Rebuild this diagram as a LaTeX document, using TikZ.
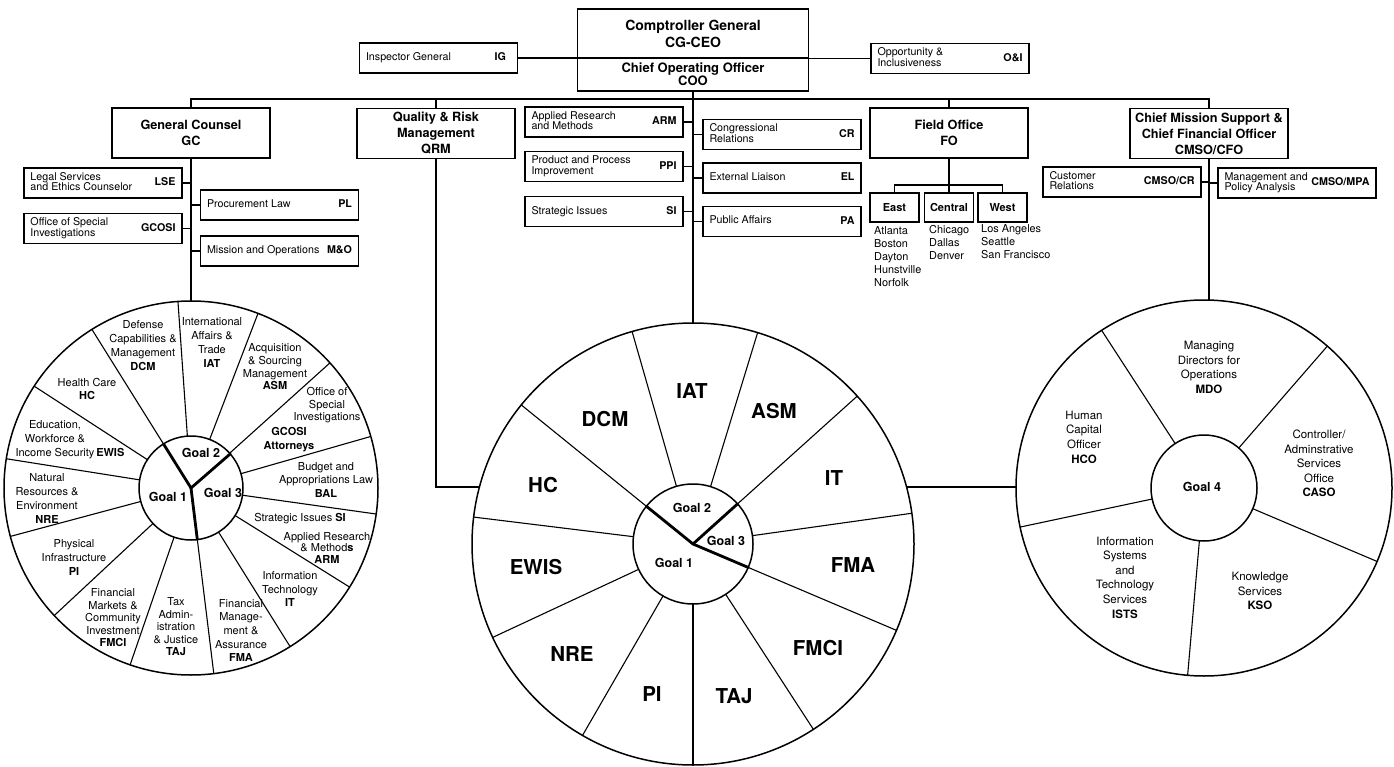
\documentclass[tikz,border=0pt]{standalone}
\usepackage{fontspec}
\setmainfont{TeX Gyre Heros}
\newcommand{\bxt}[2]{\makebox[145pt]{\begin{tabular}{@{}l@{}}#1\end{tabular}\hfill\textbf{#2}}}
\begin{document}
\begin{tikzpicture}[x=1pt,y=-1pt,
  conn/.style={line width=1.4pt},
  sbox/.style={draw, line width=1.3pt, minimum width=158pt, minimum height=30pt, inner xsep=6.5pt, inner ysep=0pt, font=\fontsize{10.7}{9.5}\selectfont},
  hbox/.style={draw, line width=1.3pt, minimum width=158pt, minimum height=50pt, align=center, inner sep=0pt, font=\fontsize{12.7}{16}\selectfont\bfseries},
  regbox/.style={draw, line width=1.3pt, minimum width=49pt, minimum height=29pt, inner sep=0pt, font=\fontsize{11}{13}\selectfont\bfseries},
  city/.style={anchor=north west, inner sep=0pt, align=left, font=\fontsize{10.9}{13}\selectfont},
  wheel/.style={circle, draw, line width=1.5pt, inner sep=0pt, outer sep=0pt, minimum size=#1},
  spoke/.style={line width=1.1pt},
  goalline/.style={line width=2.8pt, line cap=round},
  wl/.style={align=center, inner sep=0pt, font=\fontsize{11}{13.5}\selectfont},
  rl/.style={align=center, inner sep=0pt, font=\fontsize{11.5}{14.6}\selectfont},
  big/.style={inner sep=0pt, font=\fontsize{20.5}{20}\selectfont\bfseries},
  goal/.style={inner sep=0pt, font=\fontsize{12.5}{14}\selectfont\bfseries}
]
\useasboundingbox (0,0) rectangle (1394,767);

% ---- top ----
\node[draw, line width=1.4pt, minimum width=231pt, minimum height=49pt, inner sep=0pt, align=center,
      font=\fontsize{14}{17}\selectfont\bfseries] (topA) at (693,33.5) {Comptroller General\\CG-CEO};
\node[draw, line width=1.4pt, minimum width=231pt, minimum height=33pt, inner sep=0pt, align=center,
      font=\fontsize{13}{13}\selectfont\bfseries] (topB) at (693,74.5) {Chief Operating Officer\\COO};
\node[sbox] (ig) at (438.5,58) {\bxt{Inspector General}{IG\hspace{5pt}}};
\node[sbox] (oi) at (950,58.5) {\bxt{Opportunity \&\\Inclusiveness}{O\&I}};
\draw[conn] (ig.east) -- (ig.east -| topB.west);
\draw[conn] (oi.west) -- (oi.west -| topB.east);

% ---- second level ----
\coordinate (bus) at (693,99);
\node[hbox] (gc) at (191,133) {General Counsel\\GC};
\node[hbox] (qrm) at (436,133.5) {Quality \& Risk\\Management\\QRM};
\node[hbox] (fo) at (949,133) {Field Office\\FO};
\node[hbox] (cmso) at (1209,133.5) {Chief Mission Support \&\\Chief Financial Officer\\CMSO/CFO};
\draw[conn] (gc.north) -- (gc.north |- bus) -- (cmso.north |- bus) -- (cmso.north);
\draw[conn] (qrm.north) -- (qrm.north |- bus);
\draw[conn] (fo.north) -- (fo.north |- bus);

% ---- wheels ----
\node[wheel=374pt] (lwh) at (191,488) {};
\node[wheel=104pt] (lwi) at (191,488) {};
\node[wheel=442pt] (mw) at (693,544) {};
\node[wheel=120pt] (mwi) at (693,544) {};
\node[wheel=376pt] (rw) at (1204,488) {};
\node[wheel=106pt] (rwi) at (1204,488) {};

\draw[conn] (gc.south) -- (lwh.north);
\draw[conn] (topB.south) -- (mw.north);
\draw[conn] (qrm.south) |- (mw.165);
\draw[conn] (mw.15) -- (mw.15 -| rw.west);
\draw[conn] (cmso.south) -- (cmso.south |- rw.north);

% ---- GC column ----
\node[sbox] (lse) at (103,183) {\bxt{Legal Services\\and Ethics Counselor}{LSE}};
\node[sbox] (gcosi) at (103,228.5) {\bxt{Office of Special\\Investigations}{GCOSI}};
\node[sbox] (pl) at (279.5,205) {\bxt{Procurement Law}{PL}};
\node[sbox] (mo) at (279.5,251) {\bxt{Mission and Operations}{M\&O}};
\draw[conn] (lse.east) -- (lse.east -| gc.south);
\draw[conn] (gcosi.east) -- (gcosi.east -| gc.south);
\draw[conn] (pl.west) -- (pl.west -| gc.south);
\draw[conn] (mo.west) -- (mo.west -| gc.south);

% ---- middle column ----
\node[sbox] (arm) at (604,122) {\bxt{Applied Research\\and Methods}{ARM}};
\node[sbox] (ppi) at (604,166.5) {\bxt{Product and Process\\Improvement}{PPI}};
\node[sbox] (si) at (604,211.5) {\bxt{Strategic Issues}{SI}};
\node[sbox] (cr) at (782,134.5) {\bxt{Congressional\\Relations}{CR}};
\node[sbox] (el) at (782,178) {\bxt{External Liaison}{EL}};
\node[sbox] (pa) at (782,221.5) {\bxt{Public Affairs}{PA}};
\foreach \n in {arm,ppi,si} \draw[conn] (\n.east) -- (\n.east -| mw.north);
\foreach \n in {cr,el,pa} \draw[conn] (\n.west) -- (\n.west -| mw.north);

% ---- field office ----
\coordinate (fob) at (949,185);
\node[regbox] (east) at (894.5,207.5) {East};
\node[regbox] (central) at (949,207.5) {Central};
\node[regbox] (west) at (1002.5,207.5) {West};
\draw[conn] (fo.south) -- (central.north);
\draw[conn] (east.north) -- (east.north |- fob) -- (west.north |- fob) -- (west.north);
\node[city] (ecity) at (874,226) {Atlanta\\Boston\\Dayton\\Hunstville\\Norfolk};
\node[city] (ccity) at (929,225) {Chicago\\Dallas\\Denver};
\node[city] (wcity) at (981,224) {Los Angeles\\Seattle\\San Francisco};

% ---- CMSO ----
\node[sbox] (ccr) at (1122,182) {\bxt{Customer\\Relations}{CMSO/CR}};
\node[sbox] (mpa) at (1297,183) {\makebox[145pt]{\begin{tabular}{@{}l@{}}Management and\\Policy Analysis\end{tabular}\hfill\textbf{CMSO/MPA}}};
\draw[conn] (ccr.east) -- (ccr.east -| cmso.south);
\draw[conn] (mpa.west) -- (mpa.west -| cmso.south);

% ---- left wheel ----
\foreach \a in {94.6,122,147,171.4,195.9,223.7,251.3,277,302,328,352,16,42,69.6}
  \draw[spoke] (lwi.\a) -- (lwh.\a);
\draw[goalline] (lwi.center) -- (lwi.122);
\draw[goalline] (lwi.center) -- (lwi.41);
\draw[goalline] (lwi.center) -- (lwi.277);
\node[goal] (lg1) at (168,497) {Goal 1};
\node[goal] (lg2) at (201,453) {Goal 2};
\node[goal] (lg3) at (223,493) {Goal 3};

\node[wl, font=\fontsize{11}{14}\selectfont] (tDCM) at (143,346) {Defense\\Capabilities \&\\Management\\\textbf{DCM}};
\node[wl] (tHC) at (87,389) {Health Care\\\textbf{HC}};
\node[wl, font=\fontsize{11}{14.3}\selectfont] (tEWIS) at (55,439.5) {Education,\\Workforce \&\\Income Security\rlap{\,\textbf{EWIS}}};
\node[wl, font=\fontsize{11}{14.3}\selectfont] (tNRE) at (47,498.5) {Natural\\Resources \&\\Environment\\\textbf{NRE}};
\node[wl, font=\fontsize{11}{14}\selectfont] (tPI) at (74,557) {Physical\\Infrastructure\\\textbf{PI}};
\node[wl, font=\fontsize{11}{12.5}\selectfont] (tFMCI) at (113,618) {Financial\\Markets \&\\Community\\Investment\\\textbf{FMCI}};
\node[wl, font=\fontsize{11}{12.5}\selectfont] (tTAJ) at (176,627) {Tax\\Admin-\\istration\\\& Justice\\\textbf{TAJ}};
\node[wl, font=\fontsize{11}{14.3}\selectfont] (tIAT) at (212,342.5) {International\\Affairs \&\\Trade\\\textbf{IAT}};
\node[wl, font=\fontsize{11}{12.7}\selectfont] (tASM) at (275,367) {Acquisition\\\& Sourcing\\Management\\\textbf{ASM}};
\node[wl, font=\fontsize{11}{12.5}\selectfont] (tGCa) at (327,405.5) {Office of\\Special\\Investigations};
\node[wl] (tGCb) at (289,439.5) {\textbf{GCOSI}\\\textbf{Attorneys}};
\node[wl] (tBAL) at (326,479.5) {Budget and\\Appropriations Law\\\textbf{BAL}};
\node[wl] (tSI) at (300,519) {Strategic Issues \textbf{SI}};
\node[wl, font=\fontsize{11}{11.5}\selectfont] (tARM) at (327,547.5) {Applied Research\\\& Method\textbf{s}\\\textbf{ARM}};
\node[wl] (tIT) at (290,589) {Information\\Technology\\\textbf{IT}};
\node[wl, font=\fontsize{11}{13.7}\selectfont] (tFMA) at (241,630.5) {Financial\\Manage-\\ment \&\\Assurance\\\textbf{FMA}};

% ---- middle wheel ----
\foreach \a in {106.8,73.5,42.8,8.5,-23.5,-57.6,-90,-120.9,-155.3,173.2,141.3}
  \draw[spoke] (mwi.\a) -- (mw.\a);
\draw[goalline] (mwi.center) -- (mwi.141.3);
\draw[goalline] (mwi.center) -- (mwi.42.8);
\draw[goalline] (mwi.center) -- (mwi.-23.5);
\node[goal] (mg2) at (692,508) {Goal 2};
\node[goal] (mg3) at (726,541) {Goal 3};
\node[goal] (mg1) at (674,563) {Goal 1};
\node[big] (mIAT) at (692,391) {IAT};
\node[big] (mDCM) at (605,419) {DCM};
\node[big] (mASM) at (774,411) {ASM};
\node[big] (mIT) at (834,478) {IT};
\node[big] (mHC) at (543,485) {HC};
\node[big] (mEWIS) at (536,567) {EWIS};
\node[big] (mFMA) at (853,565) {FMA};
\node[big] (mNRE) at (572,654) {NRE};
\node[big] (mFMCI) at (818,648) {FMCI};
\node[big] (mPI) at (652,694) {PI};
\node[big] (mTAJ) at (734,696) {TAJ};

% ---- right wheel ----
\foreach \a in {123.8,49.2,-23.3,-95.7,192}
  \draw[spoke] (rwi.\a) -- (rw.\a);
\node[goal] (rg4) at (1202,487) {Goal 4};
\node[rl] (tMDO) at (1209,367.5) {Managing\\Directors for\\Operations\\\textbf{MDO}};
\node[rl] (tHCO) at (1084,437) {Human\\Capital\\Officer\\\textbf{HCO}};
\node[rl] (tCASO) at (1319,463.5) {Controller/\\Adminstrative\\Services\\Office\\\textbf{CASO}};
\node[rl] (tKSO) at (1260,591) {Knowledge\\Services\\\textbf{KSO}};
\node[rl] (tISTS) at (1125,577.5) {Information\\Systems\\and\\Technology\\Services\\\textbf{ISTS}};
\end{tikzpicture}
\end{document}
